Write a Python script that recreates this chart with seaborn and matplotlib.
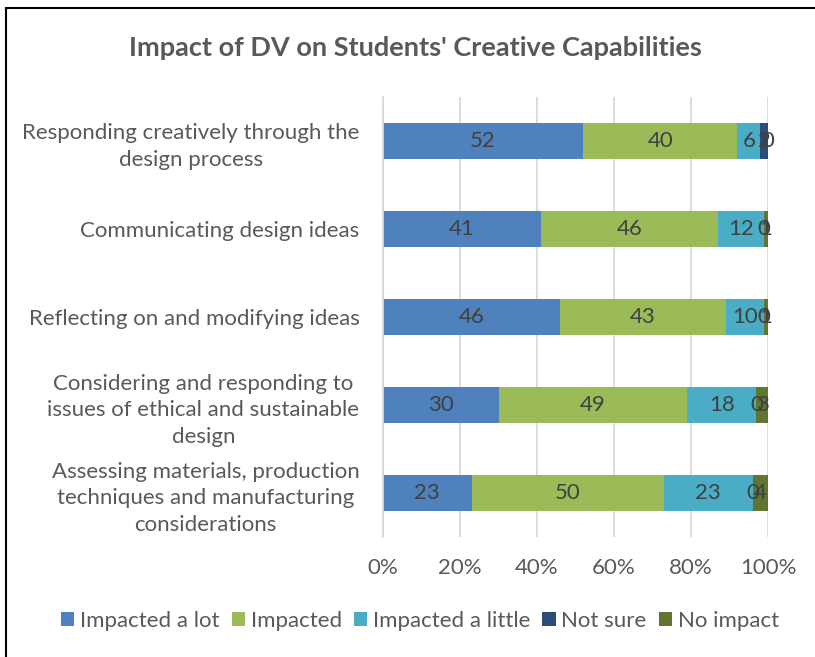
import numpy as np
import pandas as pd
import matplotlib
matplotlib.use("Agg")
import matplotlib.pyplot as plt
import seaborn as sns
from matplotlib.patches import Patch
from matplotlib.lines import Line2D

categories = [
    "Responding creatively through the\ndesign process",
    "Communicating design ideas",
    "Reflecting on and modifying ideas",
    "Considering and responding to\nissues of ethical and sustainable\ndesign",
    "Assessing materials, production\ntechniques and manufacturing\nconsiderations",
]
series_names = ["Impacted a lot", "Impacted", "Impacted a little", "Not sure", "No impact"]
impacted_a_lot = [52, 41, 46, 30, 23]
impacted = [40, 46, 43, 49, 50]
impacted_a_little = [6, 12, 10, 18, 23]
not_sure = [2, 0, 0, 0, 0]
no_impact = [0, 1, 1, 3, 4]
ticks = [0, 20, 40, 60, 80, 100]
tick_labels = ["0%", "20%", "40%", "60%", "80%", "100%"]
colors = ["#4F81BD", "#9BBB59", "#4BACC6", "#2C4D75", "#5F7530"]
title = "Impact of DV on Students' Creative Capabilities"

sns.set_theme(style="white")
plt.rcParams["font.family"] = ["Lato", "DejaVu Sans"]

values = np.array([impacted_a_lot, impacted, impacted_a_little, not_sure, no_impact], dtype=float)
cum = np.cumsum(values, axis=0)

W, H = 815, 657
fig = plt.figure(figsize=(W / 100, H / 100), dpi=100)
ax = fig.add_axes([383 / W, 1 - 537 / H, 385 / W, 440 / H])

for k in range(len(series_names) - 1, -1, -1):
    df = pd.DataFrame({"cat": categories, "val": cum[k]})
    sns.barplot(data=df, x="val", y="cat", orient="h", color=colors[k],
                width=0.4, linewidth=0, saturation=1, errorbar=None, ax=ax)

for k in range(len(series_names)):
    for i in range(len(categories)):
        v = values[k, i]
        ax.text(cum[k, i] - v / 2, i, f"{int(v)}", ha="center", va="center",
                color="#404040", fontsize=16)

ax.set_xlim(0, 100)
ax.set_xticks(ticks)
ax.set_xticklabels(tick_labels)
ax.set_xlabel("")
ax.set_ylabel("")
ax.grid(axis="x", color="#D9D9D9", linewidth=1.3)
ax.set_axisbelow(True)
for s in ["top", "right", "bottom"]:
    ax.spines[s].set_visible(False)
ax.spines["left"].set_color("#D9D9D9")
ax.spines["left"].set_linewidth(1.3)
ax.tick_params(axis="x", length=0, pad=15, labelsize=16, labelcolor="#595959")
ax.tick_params(axis="y", length=0, pad=17, labelsize=16, labelcolor="#595959")
for lab in ax.get_yticklabels():
    lab.set_multialignment("center")
    lab.set_linespacing(1.42)

fig.text(415 / W, 1 - 47.5 / H, title, ha="center", va="center",
         fontsize=19.5, fontweight="bold", color="#595959")

handles = [Patch(facecolor=c, edgecolor="none") for c in colors]
fig.legend(handles, series_names, loc="center", bbox_to_anchor=(420 / W, 1 - 621 / H),
           ncol=5, frameon=False, fontsize=16, labelcolor="#595959",
           handlelength=0.6, handleheight=0.6, handletextpad=0.25, columnspacing=0.55)

fig.add_artist(Line2D([6 / W, 1.0], [1 - 7.5 / H, 1 - 7.5 / H], transform=fig.transFigure,
                      color="black", linewidth=1.5))
fig.add_artist(Line2D([6 / W, 6 / W], [0, 1 - 7.5 / H], transform=fig.transFigure,
                      color="black", linewidth=1.5))

fig.savefig("out.png", dpi=100)
